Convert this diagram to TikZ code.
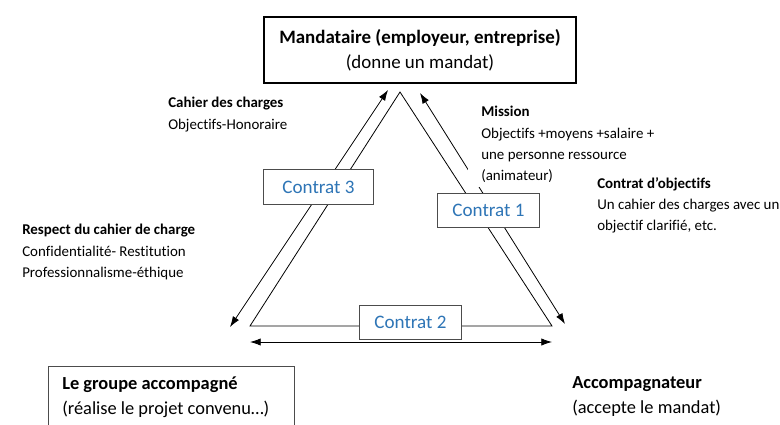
\documentclass[tikz,border=0pt]{standalone}
\usepackage{fontspec}
\setmainfont{Carlito}[Ligatures=NoCommon]
\usetikzlibrary{arrows.meta}
\definecolor{contratblue}{RGB}{46,117,182}
\tikzstyle{partie} = [rectangle, draw=black, fill=white, inner sep=0pt,
align=center, line width=0.9pt]
\tikzstyle{contrat} = [rectangle, draw=black!70, fill=white, inner sep=0pt,
minimum height=26pt, text=contratblue, font=\fontsize{14.3}{16}\selectfont, line width=0.6pt]
\tikzstyle{note} = [align=left, anchor=north west, inner sep=0pt,
font=\fontsize{11.2}{16}\selectfont]
\tikzstyle{cote} = [line width=0.6pt]
\tikzstyle{fleche} = [line width=0.6pt, {Latex[length=8pt,width=5.5pt]}-{Latex[length=8pt,width=5.5pt]}]

\begin{document}
\begin{tikzpicture}[x=0.75pt, y=-0.75pt]
\useasboundingbox (0,0) rectangle (780,424);
%Sommets du triangle
\coordinate (sommet) at (400,92);
\coordinate (gauche) at (250,326);
\coordinate (droite) at (552,326);
% Extremites des fleches
\coordinate (g1) at (230,327);
\coordinate (g2) at (388,90);
\coordinate (d1) at (420,93);
\coordinate (d2) at (565,324);
\coordinate (b1) at (250,342);
\coordinate (b2) at (552,342);
% Le triangle et les fleches
\draw[cote] (gauche) -- (sommet) -- (droite) -- cycle;
\draw[fleche] (g1) -- (g2);
\draw[fleche] (d1) -- (d2);
\draw[fleche] (b1) -- (b2);
% Les parties
\node (mandataire) [partie, minimum width=234pt, minimum height=49.5pt,
font=\fontsize{14.2}{18.75}\selectfont] at (420,50)
{\textbf{Mandataire (employeur, entreprise)}\\(donne un mandat)};
\node (groupecadre) [partie, minimum width=184.5pt, minimum height=51pt,
line width=0.6pt, draw=black!70] at (171,400) {};
\node (groupe) [align=left, anchor=west, inner sep=0pt,
font=\fontsize{13.8}{18.75}\selectfont] at (62,397)
{\textbf{Le groupe accompagné}\\(réalise le projet convenu…)};
\node (accomp) [align=left, anchor=west, inner sep=0pt,
font=\fontsize{13.8}{18.75}\selectfont] at (572,397)
{\textbf{Accompagnateur}\\(accepte le mandat)};
% Les contrats
\node (contrat3) [contrat, minimum width=83pt] at (318.5,187) {Contrat 3};
\node (contrat1) [contrat, minimum width=77pt] at (488.5,210.5) {Contrat 1};
\node (contrat2) [contrat, minimum width=76pt] at (410.5,322.5) {Contrat 2};
% Les textes
\node (cahier) [note] at (168,97) {\textbf{Cahier des charges}\\Objectifs-Honoraire};
\node (respect) [note] at (22,224) {\textbf{Respect du cahier de charge}\\
Confidentialité- Restitution\\Professionnalisme-éthique};
\node (mission) [note, fill=white, inner xsep=9.75pt, inner ysep=3pt] at (468,102)
{\textbf{Mission}\\Objectifs +moyens +salaire +\\une personne ressource\\(animateur)};
\node (objectifs) [note] at (597,177) {\textbf{Contrat d’objectifs}\\
Un cahier des charges avec un\\objectif clarifié, etc.};
\end{tikzpicture}
\end{document}
